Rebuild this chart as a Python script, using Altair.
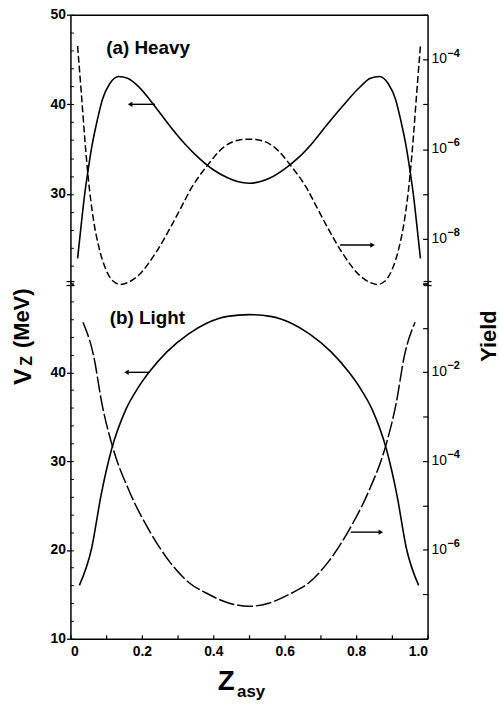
import altair as alt
import pandas as pd

# ---------------------------------------------------------------
# (a) Heavy fragments: Coulomb barrier V_Z (solid) and yield (dashed)
# ---------------------------------------------------------------
heavy_v_z = [0.02, 0.03, 0.04, 0.05, 0.06, 0.075, 0.09, 0.11, 0.135, 0.16,
             0.19, 0.24, 0.28, 0.32, 0.36, 0.40, 0.44, 0.47, 0.50,
             0.53, 0.56, 0.60, 0.64, 0.68, 0.72, 0.76, 0.81, 0.84, 0.865,
             0.89, 0.91, 0.925, 0.94, 0.95, 0.96, 0.97, 0.98]
heavy_v = [22.8, 26.5, 30.0, 32.8, 35.3, 38.2, 40.6, 42.3, 43.1, 42.9,
           42.0, 39.6, 37.5, 35.6, 34.0, 32.7, 31.8, 31.35, 31.2,
           31.35, 31.8, 32.8, 34.1, 35.8, 37.8, 39.7, 41.9, 42.9, 43.1,
           42.3, 40.6, 38.2, 35.3, 32.8, 30.0, 26.5, 22.8]

heavy_y_z = [0.02, 0.03, 0.04, 0.05, 0.065, 0.08, 0.10, 0.12, 0.14, 0.16,
             0.19, 0.24, 0.28, 0.31, 0.34, 0.38, 0.43, 0.47, 0.50,
             0.53, 0.57, 0.62, 0.66, 0.69, 0.72, 0.76, 0.81, 0.84, 0.86,
             0.88, 0.90, 0.92, 0.935, 0.95, 0.96, 0.97, 0.98]
heavy_log_yield = [-3.7, -4.7, -5.75, -6.65, -7.6, -8.2, -8.7, -8.95, -9.02, -8.98,
                   -8.82, -8.3, -7.75, -7.3, -6.85, -6.4, -5.95, -5.8, -5.78,
                   -5.8, -5.95, -6.4, -6.85, -7.3, -7.75, -8.3, -8.82, -8.98, -9.02,
                   -8.95, -8.7, -8.2, -7.6, -6.65, -5.75, -4.7, -3.7]

# ---------------------------------------------------------------
# (b) Light fragments
# ---------------------------------------------------------------
light_v_z = [0.025, 0.06, 0.085, 0.115, 0.155, 0.19, 0.22, 0.27, 0.33, 0.38, 0.44, 0.50,
             0.56, 0.62, 0.67, 0.73, 0.78, 0.81, 0.845, 0.885, 0.915, 0.94, 0.975]
light_v = [16.0, 20.3, 26.0, 31.3, 35.8, 38.3, 40.0, 42.3, 44.3, 45.5, 46.3, 46.5,
           46.3, 45.5, 44.3, 42.3, 40.0, 38.3, 35.8, 31.3, 26.0, 20.3, 16.0]

light_y_z = [0.035, 0.065, 0.088, 0.117, 0.166, 0.222, 0.278, 0.334, 0.38, 0.445, 0.50,
             0.555, 0.62, 0.666, 0.722, 0.778, 0.834, 0.883, 0.912, 0.935, 0.965]
light_log_yield = [-0.87, -1.63, -2.7, -3.65, -4.7, -5.58, -6.27, -6.75, -6.97, -7.2, -7.27,
                   -7.2, -6.97, -6.75, -6.27, -5.58, -4.7, -3.65, -2.7, -1.63, -0.87]

# Labelled decades on the yield axes
heavy_yield_label_exp = [-8, -6, -4]
light_yield_label_exp = [-6, -4, -2]

# Arrows telling which axis each curve belongs to: [x_start, x_end, level]
heavy_left_arrow = [0.167, 0.237, 40.0]
heavy_right_arrow = [0.755, 0.846, -8.14]
light_left_arrow = [0.157, 0.222, 40.0]
light_right_arrow = [0.785, 0.869, -5.6]

W, H_TOP, H_BOT = 360, 271, 358
FONT = "Liberation Sans"
INK = "#000000"

X_SCALE = alt.Scale(domain=[0, 1], nice=False, zero=False)


def panel(v_z, v_vals, y_z, log_y, v_dom, y_dom, v_ticks, v_minor, y_label_exp,
          y_decades, left_arrow, right_arrow, tag, tag_pos, height, bottom, dash):
    vdf = pd.DataFrame({"z": v_z, "v": v_vals})
    ydf = pd.DataFrame({"z": y_z, "y": [10 ** e for e in log_y]})
    v_scale = alt.Scale(domain=v_dom, nice=False, zero=False)
    y_scale = alt.Scale(type="log", domain=y_dom, nice=False)
    no_x = alt.X("z:Q", scale=X_SCALE, axis=None)

    if bottom:
        x_axis = alt.Axis(orient="bottom", values=[0, 0.2, 0.4, 0.6, 0.8, 1.0],
                          labelExpr="datum.value == 0 ? '0' : format(datum.value, '.1f')",
                          tickSize=0, labelPadding=6, labelFont=FONT, labelFontSize=14,
                          labelFontWeight="bold", labelColor=INK, domainColor=INK,
                          domainWidth=1.5, grid=False, title=None)
    else:
        x_axis = alt.Axis(orient="top", labels=False, ticks=False, domainColor=INK,
                          domainWidth=1.5, grid=False, title=None)

    v_line = alt.Chart(vdf).mark_line(color=INK, strokeWidth=1.6, interpolate="monotone").encode(
        x=alt.X("z:Q", scale=X_SCALE, axis=x_axis),
        y=alt.Y("v:Q", scale=v_scale, axis=alt.Axis(
            orient="left", values=v_ticks, tickSize=4, tickColor=INK, tickWidth=1.3,
            labelFont=FONT, labelFontSize=14, labelFontWeight="bold", labelColor=INK,
            labelPadding=1, domainColor=INK, domainWidth=1.5, grid=False, title=None)),
    )
    # inner minor ticks on the left axis
    v_inner = alt.Chart(vdf).mark_line(opacity=0).encode(
        x=no_x,
        y=alt.Y("v:Q", scale=v_scale, axis=alt.Axis(
            orient="right", offset=-W, values=v_minor, tickSize=3, tickColor=INK,
            tickWidth=1, labels=False, domain=False, grid=False, title=None)),
    )
    y_line = alt.Chart(ydf).mark_line(color=INK, strokeWidth=1.5, strokeDash=dash,
                                      interpolate="monotone").encode(
        x=no_x,
        y=alt.Y("y:Q", scale=y_scale, axis=alt.Axis(
            orient="right", labels=False, ticks=False, domainColor=INK,
            domainWidth=1.5, grid=False, title=None)),
    )
    # inner decade ticks on the right axis
    y_inner = alt.Chart(ydf).mark_line(opacity=0).encode(
        x=no_x,
        y=alt.Y("y:Q", scale=y_scale, axis=alt.Axis(
            orient="left", offset=-W, values=y_decades, tickSize=5, tickColor=INK,
            tickWidth=1.2, labels=False, domain=False, grid=False, title=None)),
    )

    # right-axis labels written as 10 with a raised exponent
    ldf = pd.DataFrame({"y": [10.0 ** e for e in y_label_exp],
                        "e": ["\u2212" + str(-e) for e in y_label_exp]})
    ten = alt.Chart(ldf).mark_text(align="left", baseline="middle", font=FONT, fontSize=14,
                                   color=INK, text="10").encode(
        x=alt.value(W + 4), y=alt.Y("y:Q", scale=y_scale, axis=None))
    sup = alt.Chart(ldf).mark_text(align="left", baseline="middle", font=FONT, fontSize=11,
                                   fontWeight="bold", color=INK, dy=-6).encode(
        x=alt.value(W + 20), y=alt.Y("y:Q", scale=y_scale, axis=None), text="e:N")

    la = pd.DataFrame({"x1": [left_arrow[0]], "x2": [left_arrow[1]], "v": [left_arrow[2]]})
    ra = pd.DataFrame({"x1": [right_arrow[0]], "x2": [right_arrow[1]],
                       "y": [10 ** right_arrow[2]]})
    l_rule = alt.Chart(la).mark_rule(color=INK, strokeWidth=1.4).encode(
        x=alt.X("x1:Q", scale=X_SCALE, axis=None), x2="x2:Q",
        y=alt.Y("v:Q", scale=v_scale, axis=None))
    l_head = alt.Chart(la).mark_point(shape="triangle-left", filled=True, color=INK,
                                      size=28, opacity=1).encode(
        x=alt.X("x1:Q", scale=X_SCALE, axis=None),
        y=alt.Y("v:Q", scale=v_scale, axis=None))
    r_rule = alt.Chart(ra).mark_rule(color=INK, strokeWidth=1.4).encode(
        x=alt.X("x1:Q", scale=X_SCALE, axis=None), x2="x2:Q",
        y=alt.Y("y:Q", scale=y_scale, axis=None))
    r_head = alt.Chart(ra).mark_point(shape="triangle-right", filled=True, color=INK,
                                      size=28, opacity=1).encode(
        x=alt.X("x2:Q", scale=X_SCALE, axis=None),
        y=alt.Y("y:Q", scale=y_scale, axis=None))

    tdf = pd.DataFrame({"z": [tag_pos[0]], "v": [tag_pos[1]], "t": [tag]})
    tag_text = alt.Chart(tdf).mark_text(align="left", baseline="middle", font=FONT,
                                        fontSize=19, fontWeight="bold", color=INK).encode(
        x=alt.X("z:Q", scale=X_SCALE, axis=None),
        y=alt.Y("v:Q", scale=v_scale, axis=None), text="t:N")

    layers = [v_line, v_inner, y_line, y_inner, ten, sup,
              l_rule, l_head, r_rule, r_head, tag_text]

    if bottom:
        one = pd.DataFrame({"k": [0]})
        base = alt.Chart(one)
        # inner ticks along the Z_asy axis
        x_inner = alt.Chart(vdf).mark_line(opacity=0).encode(
            x=alt.X("z:Q", scale=X_SCALE, axis=alt.Axis(
                orient="top", offset=-height, values=[i / 10 for i in range(11)],
                tickSize=4, tickColor=INK, tickWidth=1.2, labels=False, domain=False,
                grid=False, title=None)),
            y=alt.Y("v:Q", scale=v_scale, axis=None))
        bold = dict(font=FONT, fontWeight="bold", color=INK)
        v_title = base.mark_text(text="V", angle=270, align="center", baseline="alphabetic",
                                 fontSize=25, **bold).encode(x=alt.value(-40), y=alt.value(94))
        z_sub = base.mark_text(text="Z", angle=270, align="center", baseline="alphabetic",
                               fontSize=16, **bold).encode(x=alt.value(-39), y=alt.value(78))
        mev = base.mark_text(text="(MeV)", angle=270, align="center", baseline="alphabetic",
                             fontSize=22, **bold).encode(x=alt.value(-42), y=alt.value(35))
        yld = base.mark_text(text="Yield", angle=270, align="center", baseline="alphabetic",
                             fontSize=22, **bold).encode(x=alt.value(W + 69), y=alt.value(53))
        zt = base.mark_text(text="Z", align="center", baseline="alphabetic",
                            fontSize=28, **bold).encode(x=alt.value(157), y=alt.value(height + 52))
        asy = base.mark_text(text="asy", align="left", baseline="alphabetic",
                             fontSize=17, **bold).encode(x=alt.value(168), y=alt.value(height + 59))
        # axis breaks between the two panels
        brk = []
        for xc in (0, W):
            for yy in (-2, 2):
                brk.append(base.mark_rule(color=INK, strokeWidth=1.3).encode(
                    x=alt.value(xc - 4), x2=alt.value(xc + 4), y=alt.value(yy)))
        layers += [x_inner, v_title, z_sub, mev, yld, zt, asy] + brk

    return alt.layer(*layers).resolve_scale(x="independent", y="independent").properties(
        width=W, height=height)


top = panel(heavy_v_z, heavy_v, heavy_y_z, heavy_log_yield, [20, 50], [1e-9, 1e-3],
            [30, 40, 50], list(range(20, 51, 2)), heavy_yield_label_exp,
            [10.0 ** k for k in range(-9, -2)], heavy_left_arrow, heavy_right_arrow,
            "(a) Heavy", [0.10, 46.3], H_TOP, False, [7, 3])
bottom = panel(light_v_z, light_v, light_y_z, light_log_yield, [10, 50], [1e-8, 1],
               [10, 20, 30, 40], list(range(10, 51, 2)), light_yield_label_exp,
               [10.0 ** k for k in range(-8, 1)], light_left_arrow, light_right_arrow,
               "(b) Light", [0.11, 46.1], H_BOT, True, [16, 3])

chart = alt.vconcat(top, bottom, spacing=0, bounds="flush").properties(
    padding={"left": 11, "top": 5, "right": 0, "bottom": 0},
    background="white",
).configure_view(stroke=None)

chart.save("out.html", embed_options={"renderer": "svg", "actions": False})
